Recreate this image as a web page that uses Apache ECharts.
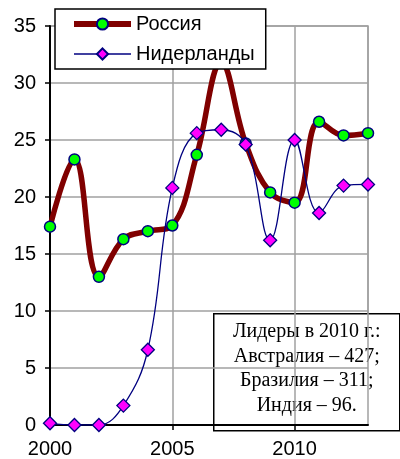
<!DOCTYPE html>
<html><head><meta charset="utf-8">
<script src="https://cdn.jsdelivr.net/npm/echarts@6/dist/echarts.min.js"></script>
<style>html,body{margin:0;padding:0;background:#fff}#c{width:400px;height:459px}</style>
</head><body><div id="c"></div>
<script>
const years = [2000,2001,2002,2003,2004,2005,2006,2007,2008,2009,2010,2011,2012,2013];
const russia = [17.4,23.3,13.0,16.3,17.0,17.5,23.7,31.8,24.7,20.4,19.5,26.6,25.4,25.6];
const netherlands = [0.15,0,0,1.7,6.6,20.8,25.6,25.9,24.6,16.2,25.0,18.6,21.0,21.1];
const seriesNames = ['Россия','Нидерланды'];
const noteLines = ['Лидеры в 2010 г.:','Австралия – 427;','Бразилия – 311;','Индия – 96.'];

const chart = echarts.init(document.getElementById('c'));
chart.setOption({
  animation:false,
  backgroundColor:'#fff',
  grid:{left:50,top:26,right:32,bottom:34,show:true,borderColor:'#a0a0a0',borderWidth:1.5,containLabel:false},
  xAxis:{type:'value',min:2000,max:2013,interval:5,
    axisLine:{show:true,lineStyle:{color:'#000',width:2}},
    axisTick:{show:true,length:5,lineStyle:{color:'#000',width:1.5}},
    axisLabel:{color:'#000',fontSize:20,fontFamily:'Liberation Sans, Arial',margin:14,showMaxLabel:false,formatter:v=>String(v)},
    splitLine:{show:true,lineStyle:{color:'#a0a0a0',width:1.5}}},
  yAxis:{type:'value',min:0,max:35,interval:5,
    axisLine:{show:true,lineStyle:{color:'#000',width:2}},
    axisTick:{show:true,length:5,lineStyle:{color:'#000',width:1.5}},
    axisLabel:{color:'#000',fontSize:20,fontFamily:'Liberation Sans, Arial',margin:14},
    splitLine:{show:true,lineStyle:{color:'#a0a0a0',width:1.5}}},
  legend:{orient:'vertical',left:55,top:9,itemWidth:57,itemHeight:14,itemGap:8,
    padding:[4,11,4,16],borderColor:'#000',borderWidth:1.5,backgroundColor:'#fff',
    textStyle:{color:'#000',fontSize:20,fontFamily:'Liberation Sans, Arial',lineHeight:22},
    data:[{name:seriesNames[0],lineStyle:{width:6}},{name:seriesNames[1],lineStyle:{width:1.5}}]},
  graphic:[{type:'group',left:213,top:313,children:[
    {type:'rect',shape:{x:0,y:0,width:186,height:117},style:{fill:'#fff',stroke:'#000',lineWidth:1.5}},
    {type:'text',x:93,y:6,style:{text:noteLines.join('\n'),fill:'#000',font:'20px "Liberation Serif", "Times New Roman", serif',align:'center',verticalAlign:'top',lineHeight:24.5}}
  ]}],
  series:[
    {name:seriesNames[0],type:'line',data:years.map((y,i)=>[y,russia[i]]),smooth:0.4,
     lineStyle:{color:'#800000',width:5.5},itemStyle:{color:'#00ff00',borderColor:'#000080',borderWidth:1.5},
     symbol:'circle',symbolSize:11,z:2},
    {name:seriesNames[1],type:'line',data:years.map((y,i)=>[y,netherlands[i]]),smooth:0.4,
     lineStyle:{color:'#000080',width:1.3},itemStyle:{color:'#ff00ff',borderColor:'#000080',borderWidth:1.3},
     symbol:'diamond',symbolSize:13,z:3}
  ]
});
</script></body></html>
